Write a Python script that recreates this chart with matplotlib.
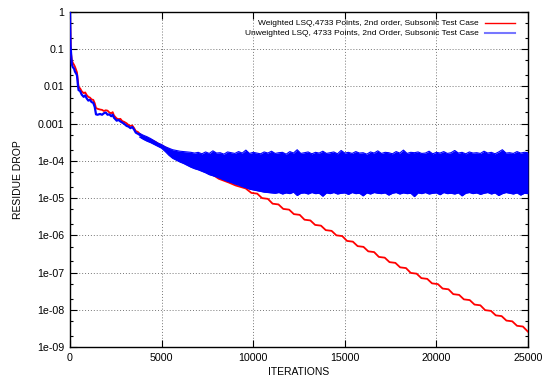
import numpy as np
import matplotlib.pyplot as plt
from matplotlib.ticker import FixedLocator, LogLocator, NullFormatter

# residual history, stored as log10 values
red_iter = [0, 40, 100, 150, 220, 270, 330, 380, 430, 470, 550, 640, 750, 830,
            910, 1000, 1090, 1180, 1270, 1350, 1420, 1500, 1640, 1750, 1850, 1950,
            2050, 2150, 2250, 2330, 2400, 2550, 2650, 2750, 2850, 2950, 3090, 3200,
            3300, 3400, 3500, 3590, 3700, 3800, 3920, 4050, 4200, 4300, 4500, 4700,
            4850, 5300, 5770, 6200, 6650, 7100, 7570, 8120, 8660, 9040, 9590,
            9900, 10220, 10480, 10800, 11060, 11380, 11640, 11960, 12220, 12540,
            12800, 13120, 13380, 13700, 13960, 14280, 14540, 14860, 15120, 15440,
            15700, 16020, 16280, 16600, 16860, 17180, 17440, 17760, 18020, 18340,
            18600, 18920, 19180, 19500, 19760, 20080, 20340, 20660, 20920, 21240,
            21500, 21820, 22080, 22400, 22660, 22980, 23240, 23560, 23820, 24140,
            24400, 24720, 24980, 25000]
red_log = [0.0, -1.05, -1.30, -1.36, -1.42, -1.47, -1.55, -1.62, -1.85, -2.02,
           -2.05, -2.13, -2.18, -2.16, -2.23, -2.28, -2.30, -2.35, -2.36, -2.45,
           -2.58, -2.60, -2.62, -2.63, -2.66, -2.64, -2.65, -2.70, -2.72, -2.69,
           -2.78, -2.86, -2.88, -2.87, -2.93, -2.95, -2.99, -3.04, -3.06, -3.05,
           -3.12, -3.20, -3.22, -3.27, -3.33, -3.36, -3.38, -3.42, -3.45, -3.50,
           -3.55, -3.66, -3.85, -3.96, -4.06, -4.17, -4.30, -4.48, -4.58, -4.66,
           -4.74,
           -4.86, -4.88, -5.00, -5.02, -5.15, -5.17, -5.29, -5.31, -5.43, -5.45,
           -5.58, -5.60, -5.72, -5.74, -5.86, -5.88, -6.00, -6.02, -6.15, -6.17,
           -6.29, -6.31, -6.43, -6.45, -6.58, -6.60, -6.72, -6.74, -6.86, -6.88,
           -7.01, -7.03, -7.15, -7.17, -7.29, -7.31, -7.43, -7.45, -7.58, -7.60,
           -7.72, -7.74, -7.86, -7.88, -8.01, -8.03, -8.15, -8.17, -8.29, -8.31,
           -8.43, -8.45, -8.58, -8.59]

blue_iter = [0, 30, 100, 150, 220, 270, 330, 380, 430, 470, 550, 640, 750, 830,
             910, 1000, 1090, 1180, 1270, 1350, 1420, 1500, 1640, 1750, 1850,
             1950, 2050, 2150, 2250, 2330, 2400, 2550, 2650, 2750, 2850, 2950,
             3090, 3200, 3300, 3400, 3500, 3590, 3700, 3800]
blue_log = [0.0, -0.90, -1.40, -1.48, -1.52, -1.60, -1.65, -1.70, -1.95, -2.10,
            -2.12, -2.22, -2.28, -2.24, -2.32, -2.38, -2.36, -2.42, -2.44, -2.55,
            -2.75, -2.76, -2.74, -2.76, -2.72, -2.70, -2.76, -2.75, -2.80, -2.76,
            -2.84, -2.92, -2.90, -2.94, -2.97, -3.00, -3.06, -3.08, -3.12, -3.09,
            -3.16, -3.24, -3.27, -3.30]

# envelope of the oscillating unweighted residual, every 200 iterations
band_iter = np.arange(3800, 25001, 200)
band_hi = [-3.26, -3.31, -3.35, -3.40, -3.46, -3.52, -3.56, -3.62, -3.66, -3.70,
           -3.72, -3.74, -3.75, -3.76, -3.77,
           -3.79, -3.77, -3.81, -3.76, -3.80, -3.73, -3.79, -3.78, -3.82, -3.76,
           -3.78, -3.80, -3.75, -3.79, -3.71, -3.80, -3.77, -3.79, -3.81, -3.76,
           -3.79, -3.74, -3.80, -3.78, -3.77, -3.82, -3.75, -3.79, -3.70, -3.80,
           -3.78, -3.76, -3.81, -3.77, -3.79, -3.74, -3.80, -3.78, -3.76, -3.81,
           -3.72, -3.79, -3.77, -3.80, -3.75, -3.79, -3.78, -3.82, -3.76, -3.79,
           -3.73, -3.80, -3.77, -3.78, -3.81, -3.75, -3.79, -3.71, -3.80, -3.77,
           -3.78, -3.76, -3.80, -3.79, -3.74, -3.81, -3.77, -3.79, -3.75, -3.80,
           -3.78, -3.72, -3.79, -3.77, -3.81, -3.76, -3.79, -3.78, -3.80, -3.74,
           -3.79, -3.77, -3.81, -3.76, -3.70, -3.79, -3.78, -3.80, -3.75, -3.79,
           -3.77, -3.78]
band_lo = [-3.36, -3.42, -3.47, -3.51, -3.56, -3.61, -3.66, -3.75, -3.85, -3.93,
           -3.98, -4.03, -4.07, -4.12, -4.17, -4.21, -4.24, -4.28, -4.32, -4.37,
           -4.40, -4.43, -4.47, -4.51, -4.55, -4.58, -4.62, -4.65, -4.69, -4.72,
           -4.76, -4.78, -4.80, -4.82, -4.84, -4.85, -4.86,
           -4.87, -4.85, -4.89, -4.86, -4.88, -4.84, -4.93, -4.87, -4.86, -4.89,
           -4.85, -4.88, -4.87, -4.95, -4.86, -4.88, -4.85, -4.89, -4.87, -4.86,
           -4.90, -4.85, -4.88, -4.87, -4.94, -4.86, -4.89, -4.85, -4.87, -4.88,
           -4.86, -4.92, -4.87, -4.85, -4.89, -4.86, -4.88, -4.87, -4.96, -4.86,
           -4.88, -4.85, -4.89, -4.87, -4.86, -4.91, -4.85, -4.88, -4.87, -4.89,
           -4.86, -4.94, -4.87, -4.85, -4.88, -4.86, -4.90, -4.87, -4.85, -4.89,
           -4.86, -4.93, -4.88, -4.85, -4.87, -4.89, -4.86, -4.92, -4.87, -4.88]

y_ticks = [1, 0.1, 0.01, 0.001, 1e-4, 1e-5, 1e-6, 1e-7, 1e-8, 1e-9]
y_labels = ["1", "0.1", "0.01", "0.001", "1e-04", "1e-05", "1e-06", "1e-07",
            "1e-08", "1e-09"]
x_ticks = [0, 5000, 10000, 15000, 20000, 25000]

label_red = "Weighted LSQ,4733 Points, 2nd order, Subsonic Test Case"
label_blue = "Unweighted LSQ, 4733 Points, 2nd Order, Subsonic Test Case"

plt.rcParams["font.family"] = ["Liberation Sans", "DejaVu Sans"]
plt.rcParams["font.size"] = 7

fig = plt.figure(figsize=(5.45, 3.81), dpi=100)
ax = fig.add_axes([70 / 545, 34 / 381, 458 / 545, 335 / 381])

ax.plot(red_iter, 10.0 ** np.array(red_log), color="#ff0000", lw=1.3, zorder=3)
ax.plot(blue_iter, 10.0 ** np.array(blue_log), color="#0000ff", lw=1.6, zorder=4)
hi = 10.0 ** np.array(band_hi)
lo = 10.0 ** np.array(band_lo)
ax.fill_between(band_iter, lo, hi, color="#0000ff", lw=0, zorder=4)
ax.plot(band_iter, hi, color="#0000ff", lw=0.8, zorder=4)
ax.plot(band_iter, lo, color="#0000ff", lw=0.8, zorder=4)

ax.set_yscale("log")
ax.set_xlim(0, 25000)
ax.set_ylim(1e-9, 1)
ax.yaxis.set_major_locator(FixedLocator(y_ticks))
ax.set_yticklabels(y_labels)
ax.yaxis.set_minor_locator(LogLocator(base=10, subs=(2, 5), numticks=20))
ax.yaxis.set_minor_formatter(NullFormatter())
ax.set_xticks(x_ticks)
ax.set_xticklabels([str(t) for t in x_ticks])

ax.tick_params(which="both", direction="in", top=True, right=True, width=0.8,
               labelsize=7.7, pad=4)
ax.tick_params(which="major", length=5)
ax.tick_params(which="minor", length=2.5)
ax.grid(True, which="major", color="#777777", lw=0.7, linestyle=(0, (1, 2)))
for s in ax.spines.values():
    s.set_linewidth(1.0)

ax.set_xlabel("ITERATIONS", fontsize=7.5, labelpad=3)
ax.set_ylabel("RESIDUE DROP", fontsize=7.5, labelpad=10)

# gnuplot style key: right aligned text, sample line on the right
ax.text(0.893, 0.967, label_red, transform=ax.transAxes, ha="right",
        va="center", fontsize=6.0)
ax.text(0.893, 0.937, label_blue, transform=ax.transAxes, ha="right",
        va="center", fontsize=6.0)
ax.plot([0.907, 0.972], [0.967, 0.967], transform=ax.transAxes, color="#ff0000",
        lw=1.0, clip_on=False)
ax.plot([0.907, 0.972], [0.937, 0.937], transform=ax.transAxes, color="#7777ff",
        lw=1.5, clip_on=False)

fig.savefig("out.png", dpi=100)
